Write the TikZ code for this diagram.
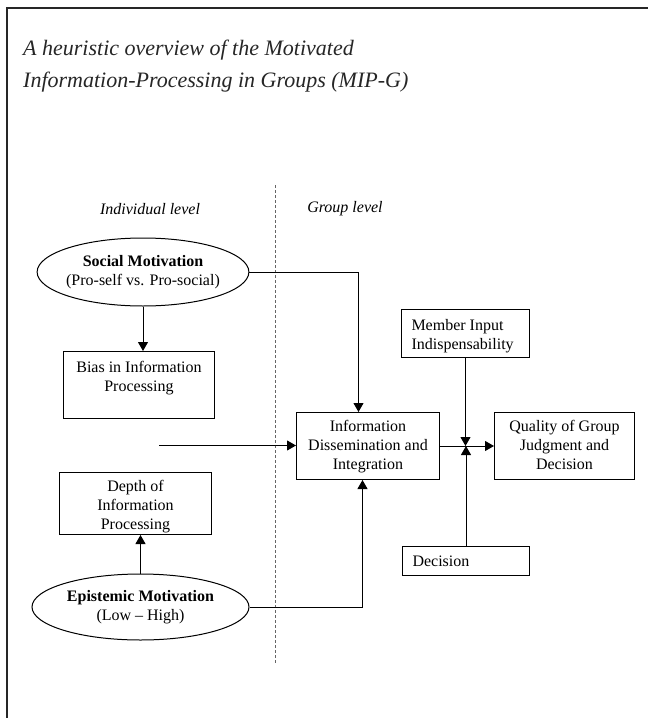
\documentclass[tikz,border=0pt]{standalone}
\usepackage{fontspec}
\setmainfont{Liberation Serif}
\usetikzlibrary{arrows.meta,shapes.geometric,positioning,calc}
\definecolor{frameGray}{rgb}{0.15 0.15 0.15}
\definecolor{splitGray}{rgb}{0.4 0.4 0.4}

% box texts: width, height, top pad, lines
\newcommand{\boxc}[4]{\parbox[c][#2pt][t]{#1pt}{\vspace*{#3pt}\centering #4}}
\newcommand{\boxl}[4]{\parbox[c][#2pt][t]{#1pt}{\vspace*{#3pt}\raggedright\leftskip=10pt #4}}

\begin{document}
\begin{tikzpicture}[x=1pt,y=-1pt,
    every node/.style={font=\fontsize{16}{19}\selectfont},
    box/.style={draw,line width=1pt,inner sep=0pt,anchor=north west},
    motiv/.style={draw,line width=1pt,ellipse,inner sep=0pt,align=center},
    level/.style={font=\fontsize{16}{19}\selectfont\itshape},
    heading/.style={anchor=base west,inner sep=0pt,text=frameGray,font=\fontsize{22}{32}\selectfont\itshape},
    link/.style={line width=1pt,-{Triangle[length=9pt,width=10pt]}}]

  \useasboundingbox (0,0) rectangle (648,718);

  % draw the frame
  \draw[frameGray,line width=2.5pt] (648,8) -- (7,8) -- (7,718);

  % draw the title
  \node[heading] (title) at (23,55) {A heuristic overview of the Motivated};
  \node[heading] (subtitle) at (23,87) {Information-Processing in Groups (MIP-G)};

  % draw the levels
  \draw[splitGray,line width=1pt,dash pattern=on 3pt off 2pt] (275,185) -- (275,663);
  \node[level] (indiv) at (150,209) {Individual level};
  \node[level] (group) at (345,209) {Group level};

  % draw the motivations
  \node[motiv,minimum width=211pt,minimum height=68pt,inner xsep=-2pt] (social) at (143,272)
    {\textbf{Social Motivation}\\(Pro-self vs. Pro-social)};
  \node[motiv,minimum width=217pt,minimum height=66pt] (epist) at (140.5,607)
    {\textbf{Epistemic Motivation}\\(Low -- High)};

  % draw the boxes
  \foreach \name/\x/\y/\w/\h/\pad/\txt in {
      bias/63/351/151/67/10/{Bias in Information\\Processing},
      depth/59/472/152/62/8/{Depth of\\Information\\Processing},
      info/296/412/143/67/8/{Information\\Dissemination and\\Integration},
      quality/494/412/140/67/8/{Quality of Group\\Judgment and\\Decision}}
    \node[box] (\name) at (\x,\y) {\boxc{\w}{\h}{\pad}{\txt}};

  \node[box] (member) at (401,309) {\boxl{128}{48}{10}{Member Input\\Indispensability}};
  \node[box] (decision) at (402,546) {\boxl{127}{29}{9}{Decision}};

  % draw the links
  \coordinate (feed) at (159,445.5);
  \draw[link] (social.south) -- (social.south |- bias.north);
  \draw[link] (social.east) -| ([xshift=-9.5pt]info.north);
  \draw[link] (epist.north) -- (epist.north |- depth.south);
  \draw[link] (epist.east) -| ([xshift=-5.5pt]info.south);
  \draw[link] (feed) -- (feed -| info.west);
  \draw[link] (info.east) -- (quality.west);
  \draw[link] (member.south) -- (member.south |- info.east);
  \draw[link] (decision.north) -- (decision.north |- info.east);

\end{tikzpicture}
\end{document}
